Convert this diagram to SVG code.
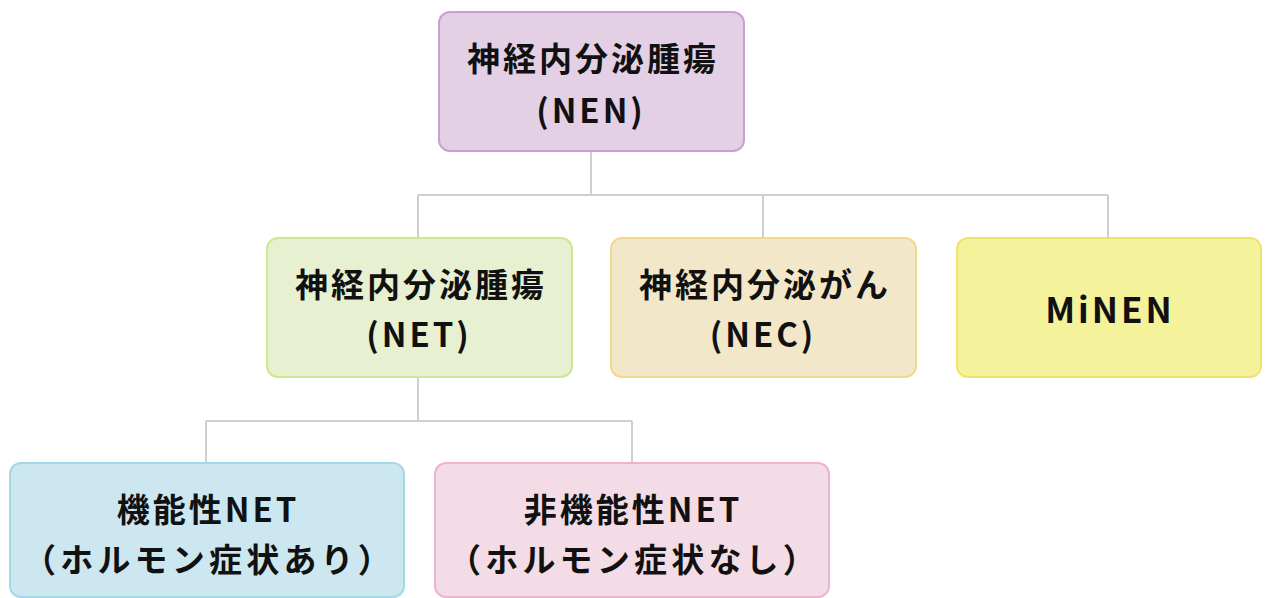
<svg xmlns="http://www.w3.org/2000/svg" width="1267" height="598" viewBox="0 0 1267 598">
<style>
.box{stroke-width:2}
.t{font-family:"Noto Sans CJK JP","Noto Sans",sans-serif;font-weight:bold;font-size:33px;fill:#111;text-anchor:middle;dominant-baseline:central;letter-spacing:3px}
.w{letter-spacing:4.2px}
.c{fill:none;stroke:#cfcfcf;stroke-width:2}
</style>
<rect width="1267" height="598" fill="#fff"/>
<g id="connectors">
<path class="c" d="M591 151V195M418 195H1108M418 195V238M763 195V238M1108 195V238"/>
<path class="c" d="M418 377V421M206 421H632M206 421V463M632 421V463"/>
</g>
<g id="nen">
<rect class="box" x="439" y="12" width="305" height="139" rx="11" fill="#e3d0e5" stroke="#cc9fd2"/>
<text class="t" x="593" y="57">神経内分泌腫瘍</text>
<text class="t" x="591" y="109">(NEN)</text>
</g>
<g id="net">
<rect class="box" x="267" y="238" width="305" height="139" rx="11" fill="#e7f0d0" stroke="#cde88f"/>
<text class="t" x="421" y="283">神経内分泌腫瘍</text>
<text class="t" x="419" y="333">(NET)</text>
</g>
<g id="nec">
<rect class="box" x="611" y="238" width="305" height="139" rx="11" fill="#f3e7c9" stroke="#f1d88e"/>
<text class="t" x="765" y="283">神経内分泌がん</text>
<text class="t" x="763" y="333">(NEC)</text>
</g>
<g id="minen">
<rect class="box" x="957" y="238" width="304" height="139" rx="11" fill="#f5f29c" stroke="#eee46c"/>
<text class="t" x="1110" y="307" style="font-size:35px">MiNEN</text>
</g>
<g id="functional">
<rect class="box" x="10" y="463" width="394" height="134" rx="11" fill="#cde7f0" stroke="#a3d8ea"/>
<text class="t" x="208" y="508">機能性NET</text>
<text class="t w" x="209" y="558">（ホルモン症状あり）</text>
</g>
<g id="nonfunctional">
<rect class="box" x="435" y="463" width="394" height="134" rx="11" fill="#f3dce6" stroke="#eeb3cd"/>
<text class="t" x="633" y="508">非機能性NET</text>
<text class="t w" x="634" y="558">（ホルモン症状なし）</text>
</g>
</svg>
